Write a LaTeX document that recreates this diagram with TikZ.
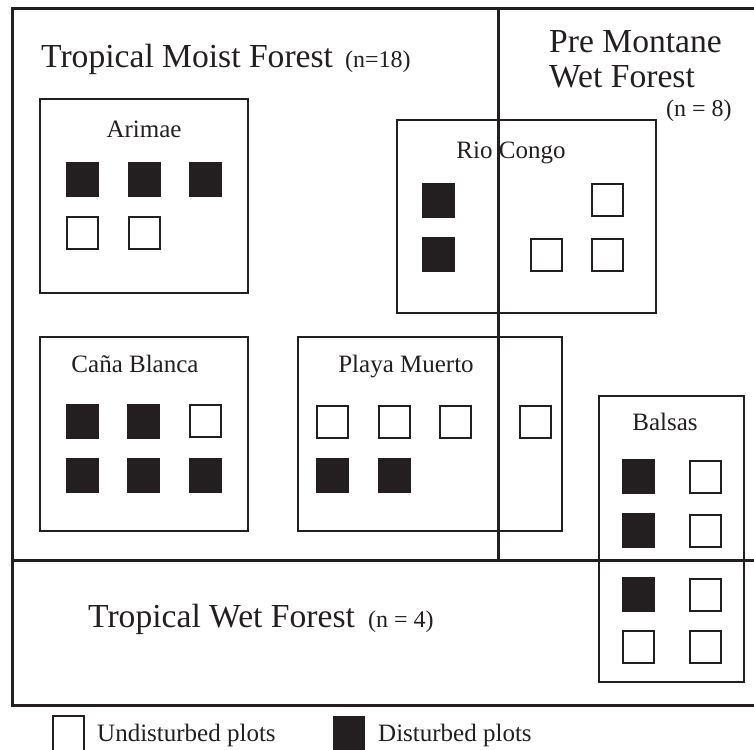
\documentclass[tikz,border=0pt]{standalone}
\usepackage{fontspec}
\setmainfont{Liberation Serif}
\definecolor{ink}{RGB}{35,31,32}
\tikzset{
  frameline/.style={draw=ink, line width=3pt},
  sitebox/.style={draw=ink, line width=2pt, inner sep=0pt, outer sep=0pt},
  plotU/.style={draw=ink, line width=2pt, fill=white, inner sep=0pt, minimum width=31pt, minimum height=32pt},
  plotD/.style={fill=ink, inner sep=0pt, minimum width=33pt, minimum height=35pt},
  bigtxt/.style={inner sep=0pt, anchor=base west, text=ink, font=\fontsize{33.6}{36}\selectfont},
  ntxt/.style={inner sep=0pt, anchor=base west, text=ink, font=\fontsize{24}{26}\selectfont},
  sitetxt/.style={inner sep=0pt, anchor=base, text=ink, font=\fontsize{25}{27}\selectfont},
  legtxt/.style={inner sep=0pt, anchor=base west, text=ink, font=\fontsize{25}{27}\selectfont}
}
\begin{document}
\begin{tikzpicture}[x=1pt, y=-1pt]
\useasboundingbox (0,0) rectangle (754,749);
\clip (0,0) rectangle (754,749);
\fill[white] (0,0) rectangle (754,749);

% zone frame
\draw[frameline] (760,9) -- (12,9) -- (12,705) -- (760,705);
\draw[frameline] (12,560) -- (760,560);
\draw[frameline] (498,9) -- (498,560);

% zone labels
\node[bigtxt] (tmf) at (41,68) {Tropical Moist Forest};
\node[ntxt] (tmfn) at (345,68) {(n=18)};
\node[bigtxt] (pm1) at (549,53) {Pre Montane};
\node[bigtxt] (pm2) at (549,88) {Wet Forest};
\node[ntxt] (pmn) at (666,117) {(n = 8)};
\node[bigtxt] (twf) at (88,627) {Tropical Wet Forest};
\node[ntxt] (twfn) at (368,627) {(n = 4)};

% site boxes
\node[sitebox, minimum width=208pt, minimum height=194pt] (arimae) at (144,196) {};
\node[sitebox, minimum width=208pt, minimum height=194pt] (cana) at (144,434) {};
\node[sitebox, minimum width=264pt, minimum height=194pt] (playa) at (430,434) {};
\node[sitebox, minimum width=259pt, minimum height=193pt] (rio) at (526.5,216.5) {};
\node[sitebox, minimum width=145pt, minimum height=286pt] (balsas) at (671.5,539) {};

% site labels
\node[sitetxt] (arimaeL) at (144,137) {Arimae};
\node[sitetxt] (rioL) at (511,158) {Rio Congo};
\node[sitetxt] (canaL) at (135,372) {Caña Blanca};
\node[sitetxt] (playaL) at (406,372) {Playa Muerto};
\node[sitetxt] (balsasL) at (665,430) {Balsas};

% Arimae plots
\node[plotD] (a1) at (82.5,179.5) {};
\node[plotD] (a2) at (144,179.5) {};
\node[plotD] (a3) at (205.5,179.5) {};
\node[plotU] (a4) at (82.5,233) {};
\node[plotU] (a5) at (144,233) {};

% Cana Blanca plots
\node[plotD] (c1) at (82.5,421) {};
\node[plotD] (c2) at (143.5,421) {};
\node[plotU] (c3) at (205.5,421) {};
\node[plotD] (c4) at (82.5,475) {};
\node[plotD] (c5) at (143.5,475) {};
\node[plotD] (c6) at (205.5,475) {};

% Playa Muerto plots
\node[plotU] (p1) at (332.5,421.5) {};
\node[plotU] (p2) at (394,421.5) {};
\node[plotU] (p3) at (455.5,421.5) {};
\node[plotU] (p4) at (535,421.5) {};
\node[plotD] (p5) at (332.5,475) {};
\node[plotD] (p6) at (394,475) {};

% Rio Congo plots
\node[plotD] (r1) at (438.5,200.5) {};
\node[plotD] (r2) at (438.5,254.5) {};
\node[plotU] (r3) at (607.5,200) {};
\node[plotU] (r4) at (546,254.5) {};
\node[plotU] (r5) at (607.5,254.5) {};

% Balsas plots
\node[plotD] (b1) at (638.5,476.5) {};
\node[plotU] (b2) at (705.5,476.5) {};
\node[plotD] (b3) at (638.5,530.5) {};
\node[plotU] (b4) at (705.5,530.5) {};
\node[plotD] (b5) at (638.5,594.5) {};
\node[plotU] (b6) at (705.5,594.5) {};
\node[plotU] (b7) at (638.5,646.5) {};
\node[plotU] (b8) at (705.5,646.5) {};

% legend
\node[plotU, minimum height=44pt] (legU) at (68,738) {};
\node[legtxt] (legUt) at (97,741) {Undisturbed plots};
\node[plotD, minimum width=32pt, minimum height=44pt] (legD) at (349,738) {};
\node[legtxt] (legDt) at (378,741) {Disturbed plots};
\end{tikzpicture}
\end{document}
